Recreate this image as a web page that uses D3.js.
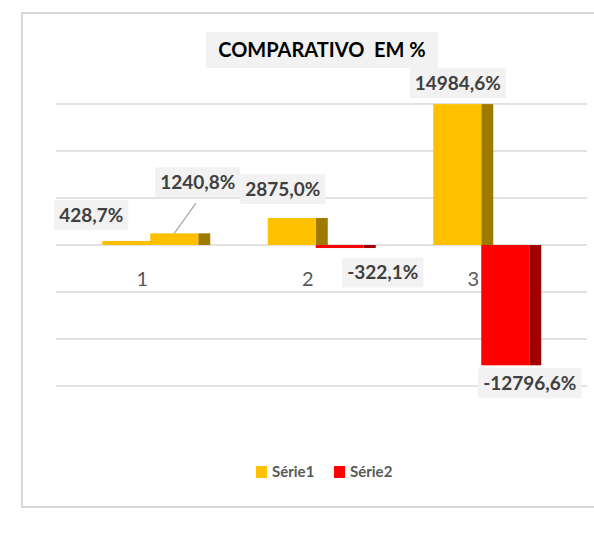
<!DOCTYPE html>
<html>
<head>
	<meta charset="utf-8">
	<title>Comparativo em %</title>
	<script src="https://d3js.org/d3.v7.min.js"></script>
	<style>
		body { margin:0; background:#fff; font-family: Lato, "Liberation Sans", Arial, sans-serif; }
		svg { display:block; }
		.grid line { stroke:#d9d9d9; stroke-width:1.6; }
		.cat text { font-size:20px; fill:#595959; }
		.lbl text { font-size:19px; font-weight:bold; fill:#404040; }
		.legend text { font-size:15px; font-weight:bold; fill:#595959; }
	</style>
</head>
<body>
	<svg id="chart"></svg>
	<script>

	// data
	var categories = ["1", "2", "3"];
	var seriesNames = ["Série1", "Série2"];
	var serie1 = [428.7, 2875.0, 14984.6];
	var serie2 = [1240.8, -322.1, -12796.6];
	var yTicks = [-15000, -10000, -5000, 0, 5000, 10000, 15000];

	// label nudges (layout only): [dx from bar face centre, dy from bar end]
	var nudge1 = [[-35, -26], [-9, -29], [0.5, -21]];
	var nudge2 = [[23.5, -51], [43, 24.5], [24.5, 18]];

	var W = 594, H = 534;
	var faceW = 48, sideW = 12;
	var colors = {
		pos: {face:"#ffc000", side:"#9f7a00"},
		neg: {face:"#ff0000", side:"#a00000"}
	};

	var svg = d3.select("#chart").attr("width", W).attr("height", H);

	// chart frame (right side runs off the page)
	svg.append("rect")
		.attr("x", 22).attr("y", 13)
		.attr("width", 620).attr("height", 494)
		.attr("fill", "#fff")
		.attr("stroke", "#d9d9d9").attr("stroke-width", 2);

	var x = d3.scaleBand().domain(categories).range([59.5, 556]);
	var y = d3.scaleLinear().domain([-15000, 15000]).range([386, 104]);
	var xs = d3.scaleBand().domain([0, 1]).range([0, 2 * faceW]);

	var pt = d3.formatLocale({decimal: ",", thousands: ".", grouping: [3], currency: ["R$", ""], minus: "-"});
	var fmt = function(v) { return pt.format(".1f")(v) + "%"; };

	// gridlines
	svg.append("g").attr("class", "grid")
		.selectAll("line").data(yTicks).join("line")
		.attr("x1", 56).attr("x2", 587)
		.attr("y1", function(d) { return y(d); })
		.attr("y2", function(d) { return y(d); });

	// category labels
	svg.append("g").attr("class", "cat")
		.selectAll("text").data(categories).join("text")
		.attr("x", function(d) { return x(d) + x.bandwidth() / 2; })
		.attr("y", 286)
		.attr("text-anchor", "middle")
		.text(function(d) { return d; });

	var rows = [];
	[serie1, serie2].forEach(function(vals, s) {
		vals.forEach(function(v, i) {
			var left = x(categories[i]) + x.bandwidth() / 2 - 40 + xs(s);
			rows.push({s: s, i: i, v: v, left: left,
				nudge: (s === 0 ? nudge1 : nudge2)[i]});
		});
	});

	// bars: front face + dark right side
	var bars = svg.append("g").selectAll("g").data(rows).join("g");
	bars.append("rect")
		.attr("x", function(d) { return d.left + faceW; })
		.attr("width", sideW)
		.attr("y", function(d) { return Math.min(y(d.v), y(0)); })
		.attr("height", function(d) { return Math.abs(y(d.v) - y(0)); })
		.attr("fill", function(d) { return colors[d.v >= 0 ? "pos" : "neg"].side; });
	bars.append("rect")
		.attr("x", function(d) { return d.left; })
		.attr("width", faceW)
		.attr("y", function(d) { return Math.min(y(d.v), y(0)); })
		.attr("height", function(d) { return Math.abs(y(d.v) - y(0)); })
		.attr("fill", function(d) { return colors[d.v >= 0 ? "pos" : "neg"].face; });

	// data labels
	var lbl = svg.append("g").attr("class", "lbl")
		.selectAll("g").data(rows).join("g")
		.attr("transform", function(d) {
			var cx = d.left + faceW / 2 + d.nudge[0];
			var cy = y(d.v) + d.nudge[1];
			return "translate(" + cx + "," + cy + ")";
		});
	lbl.append("rect").attr("fill", "#f2f2f2");
	lbl.append("text")
		.attr("text-anchor", "middle")
		.attr("dy", "0.35em")
		.text(function(d) { return fmt(d.v); });
	lbl.each(function() {
		var g = d3.select(this);
		var bb = g.select("text").node().getBBox();
		g.select("rect")
			.attr("x", bb.x - 5).attr("width", bb.width + 10)
			.attr("y", -15).attr("height", 30);
	});

	// leader line for the label that sits away from its bar
	rows.filter(function(d) { return d.nudge[1] < -40; }).forEach(function(d) {
		svg.append("line")
			.attr("x1", d.left + faceW / 2 + d.nudge[0] - 2)
			.attr("y1", y(d.v) + d.nudge[1] + 21)
			.attr("x2", d.left + faceW / 2)
			.attr("y2", y(d.v))
			.attr("stroke", "#a6a6a6").attr("stroke-width", 1.2);
	});

	// title
	var title = svg.append("g").attr("transform", "translate(322,50)");
	title.append("rect")
		.attr("x", -116).attr("y", -18).attr("width", 232).attr("height", 36)
		.attr("fill", "#f2f2f2");
	title.append("text")
		.attr("text-anchor", "middle").attr("dy", "0.35em")
		.style("white-space", "pre")
		.style("font-size", "20px").style("font-weight", "bold").style("fill", "#000")
		.text("COMPARATIVO  EM %");

	// legend
	var legend = svg.append("g").attr("class", "legend")
		.selectAll("g").data(seriesNames).join("g")
		.attr("transform", function(d, i) { return "translate(" + (256 + i * 78) + ",466)"; });
	legend.append("rect")
		.attr("width", 11).attr("height", 12)
		.attr("fill", function(d, i) { return i === 0 ? colors.pos.face : colors.neg.face; });
	legend.append("text")
		.attr("x", 16).attr("y", 11)
		.text(function(d) { return d; });
	</script>
</body>
</html>
